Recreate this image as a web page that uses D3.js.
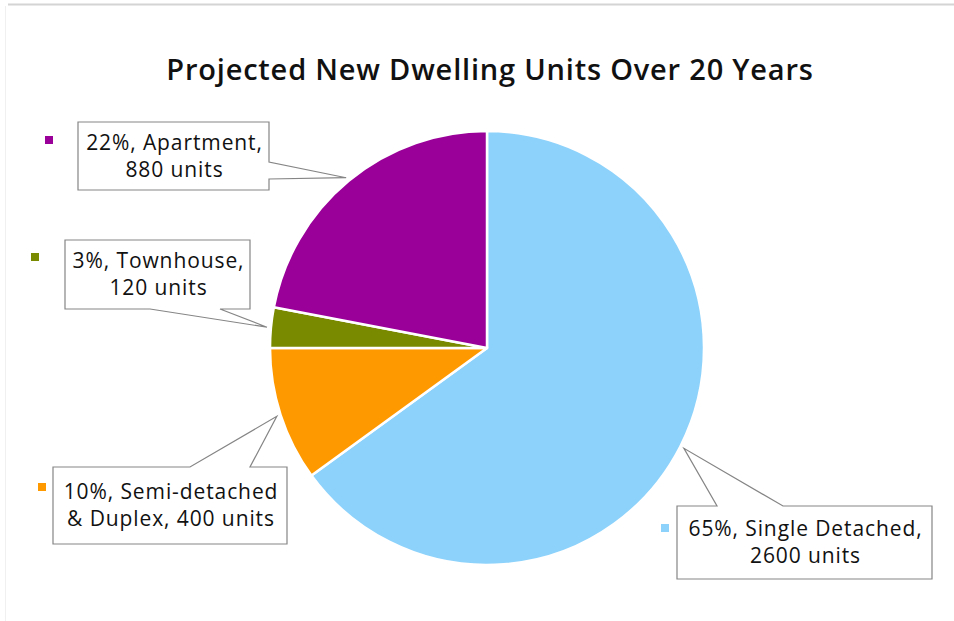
<!DOCTYPE html>
<head>
    <title>Projected New Dwelling Units</title>
    <meta charset="utf-8" />
</head>

<style>
    body {
        margin: 0;
        background-color: #ffffff;
    }

    .callout text {
        font-family: "Open Sans", sans-serif;
        font-size: 21px;
        letter-spacing: 0.9px;
        fill: #111111;
    }

    .title {
        font-family: "Open Sans", sans-serif;
        font-size: 29px;
        font-weight: 600;
        letter-spacing: 0.8px;
        fill: #111111;
    }
</style>

<body>
    <svg id="chart" width="954" height="621"></svg>
    <script src="https://d3js.org/d3.v7.min.js"></script>

    <script>
        // data
        var categories = ["Single Detached", "Semi-detached & Duplex", "Townhouse", "Apartment"];
        var units = [2600, 400, 120, 880];
        var percents = [65, 10, 3, 22];
        var labelLines = [
            ["65%, Single Detached,", "2600 units"],
            ["10%, Semi-detached", "& Duplex, 400 units"],
            ["3%, Townhouse,", "120 units"],
            ["22%, Apartment,", "880 units"]
        ];
        var colors = ["#8dd2fb", "#ff9900", "#7a8a00", "#9a0099"];

        // callout layout (box, side the pointer leaves from, pointer base, legend square)
        var callouts = [
            { box: [677, 506, 932, 579], side: "top", base: [717, 783], key: [665, 528] },
            { box: [53, 467, 287, 544], side: "top", base: [190, 250], key: [42, 487] },
            { box: [65, 240, 250, 309], side: "bottom", base: [150, 220], key: [35, 257] },
            { box: [78, 122, 269, 190], side: "right", base: [162, 179], key: [49, 140] }
        ];

        var svg = d3.select("#chart");
        var cx = 487, cy = 348, radius = 217;

        // frame edge at top / left
        svg.append("line")
            .attr("x1", 8).attr("x2", 954)
            .attr("y1", 4.5).attr("y2", 4.5)
            .attr("stroke", "#d4d4d4")
            .attr("stroke-width", 2);
        svg.append("line")
            .attr("x1", 5.5).attr("x2", 5.5)
            .attr("y1", 6).attr("y2", 621)
            .attr("stroke", "#f0f0f0")
            .attr("stroke-width", 1);

        svg.append("text")
            .attr("class", "title")
            .attr("x", 490)
            .attr("y", 80)
            .attr("text-anchor", "middle")
            .text("Projected New Dwelling Units Over 20 Years");

        var data = categories.map(function(c, i) {
            return { name: c, units: units[i], pct: percents[i], lines: labelLines[i], color: colors[i], co: callouts[i] };
        });

        var pie = d3.pie()
            .sort(null)
            .value(function(d) {
                return d.units;
            });

        var arc = d3.arc()
            .outerRadius(radius)
            .innerRadius(0);

        var tipArc = d3.arc()
            .outerRadius(221)
            .innerRadius(221);

        var g = svg.append("g")
            .attr("transform", "translate(" + cx + "," + cy + ")");

        var arcs = pie(data);

        g.selectAll(".slice")
            .data(arcs)
            .enter().append("path")
            .attr("class", "slice")
            .attr("d", arc)
            .attr("fill", function(d) {
                return d.data.color;
            })
            .attr("stroke", "#ffffff")
            .attr("stroke-width", 2.5)
            .attr("stroke-linejoin", "round");

        // callouts
        function calloutPoints(co, tip) {
            var x0 = co.box[0], y0 = co.box[1], x1 = co.box[2], y1 = co.box[3];
            var b = co.base;
            if (co.side == "top") {
                return [[x0, y0], [b[0], y0], tip, [b[1], y0], [x1, y0], [x1, y1], [x0, y1]];
            } else if (co.side == "right") {
                return [[x0, y0], [x1, y0], [x1, b[0]], tip, [x1, b[1]], [x1, y1], [x0, y1]];
            } else {
                return [[x0, y0], [x1, y0], [x1, y1], [b[1], y1], tip, [b[0], y1], [x0, y1]];
            }
        }

        var line = d3.line();

        var callout = svg.selectAll(".callout")
            .data(arcs)
            .enter().append("g")
            .attr("class", "callout");

        callout.append("path")
            .attr("d", function(d) {
                var c = tipArc.centroid(d);
                var tip = [cx + c[0], cy + c[1]];
                return line(calloutPoints(d.data.co, tip)) + "Z";
            })
            .attr("fill", "#ffffff")
            .attr("stroke", "#858585")
            .attr("stroke-width", 1.2);

        callout.append("rect")
            .attr("x", function(d) {
                return d.data.co.key[0] - 4;
            })
            .attr("y", function(d) {
                return d.data.co.key[1] - 4;
            })
            .attr("width", 8)
            .attr("height", 8)
            .attr("fill", function(d) {
                return d.data.color;
            });

        callout.each(function(d) {
            var b = d.data.co.box;
            var mx = (b[0] + b[2]) / 2;
            var my = (b[1] + b[3]) / 2;
            d3.select(this).selectAll("text")
                .data(d.data.lines)
                .enter().append("text")
                .attr("x", mx + 1)
                .attr("y", function(t, i) {
                    return my + (i - 0.5) * 27;
                })
                .attr("dy", "0.35em")
                .attr("text-anchor", "middle")
                .text(function(t) {
                    return t;
                });
        });
    </script>
</body>
